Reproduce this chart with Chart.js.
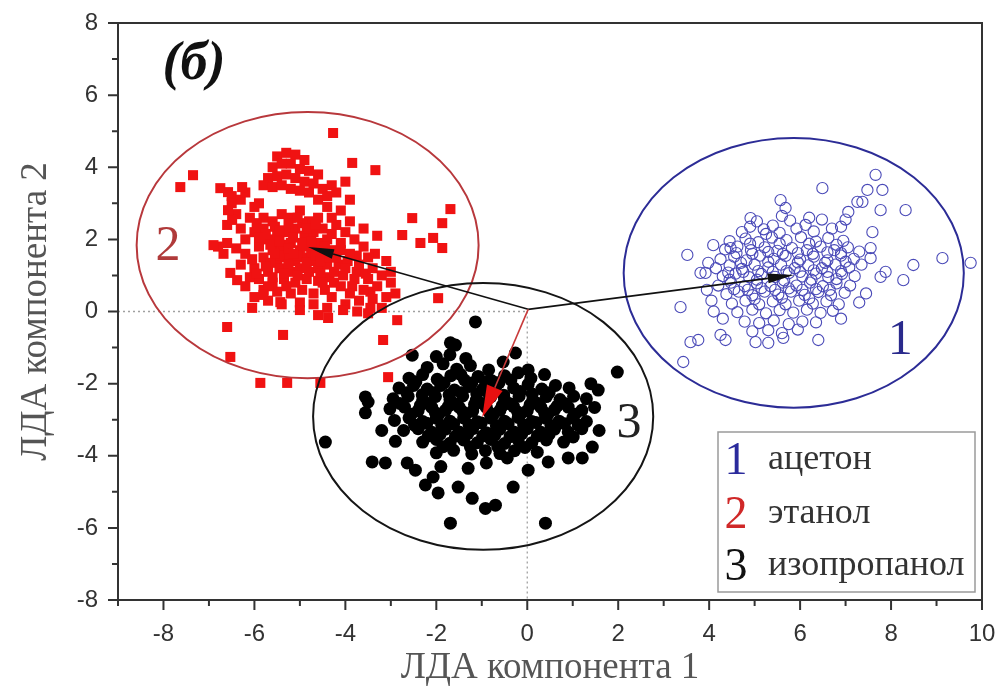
<!DOCTYPE html>
<html><head><meta charset="utf-8">
<script src="https://cdn.jsdelivr.net/npm/chart.js@4"></script>
<style>html,body{margin:0;padding:0;background:#fff}#wrap{width:1008px;height:690px;position:relative}</style>
</head><body><div id="wrap"><canvas id="c"></canvas></div>
<script>
const xTickValues = [-8,-6,-4,-2,0,2,4,6,8,10];
const yTickValues = [-8,-6,-4,-2,0,2,4,6,8];
const xMinorValues = [-9,-7,-5,-3,-1,1,3,5,7,9];
const yMinorValues = [-7,-5,-3,-1,1,3,5,7];
const groupNumbers = ['1','2','3'];
const groupNames = ['ацетон','этанол','изопропанол'];
const xTitle = 'ЛДА компонента 1';
const yTitle = 'ЛДА компонента 2';
const panelLabel = '(б)';

// 1 — ацетон
const acetone = [
[5.05,2.5],[5.4,2.38],[5.78,2.52],[6.12,2.4],[6.48,2.55],[5.6,2.65],
[4.72,2.2],[5.2,2.28],[5.55,2.18],[5.92,2.3],[6.3,2.22],[6.7,2.3],[4.9,2.35],
[4.45,1.95],[4.8,2.02],[5.08,1.92],[5.38,2.05],[5.7,1.98],[6.02,2.06],[6.35,1.94],[6.62,2.04],[6.95,1.96],[5.25,2.15],
[4.35,1.72],[4.62,1.8],[4.92,1.7],[5.22,1.78],[5.5,1.68],[5.82,1.76],[6.15,1.7],[6.45,1.8],[6.75,1.7],[7.05,1.78],[7.3,1.66],
[4.25,1.45],[4.55,1.52],[4.82,1.42],[5.12,1.55],[5.42,1.46],[5.68,1.54],[6.0,1.44],[6.3,1.52],[6.6,1.42],[6.9,1.55],[7.18,1.46],
[4.15,1.2],[4.45,1.28],[4.72,1.18],[5.0,1.3],[5.3,1.22],[5.58,1.3],[5.88,1.2],[6.18,1.28],[6.48,1.2],[6.78,1.3],[7.08,1.22],[7.35,1.3],
[4.3,0.98],[4.58,1.05],[4.88,0.95],[5.15,1.04],[5.45,0.96],[5.75,1.06],[6.05,0.97],[6.35,1.05],[6.62,0.95],[6.92,1.04],[7.2,0.98],
[4.2,0.72],[4.48,0.8],[4.78,0.7],[5.05,0.78],[5.35,0.7],[5.62,0.8],[5.92,0.72],[6.22,0.8],[6.5,0.7],[6.8,0.78],[7.1,0.72],
[4.38,0.48],[4.65,0.55],[4.95,0.45],[5.22,0.55],[5.52,0.47],[5.8,0.55],[6.1,0.46],[6.4,0.54],[6.68,0.45],[6.98,0.52],
[4.5,0.22],[4.8,0.3],[5.1,0.2],[5.4,0.28],[5.68,0.2],[5.98,0.3],[6.28,0.22],[6.58,0.28],[6.85,0.2],
[4.62,-0.02],[4.95,0.05],[5.25,-0.05],[5.55,0.04],[5.85,-0.03],[6.15,0.05],[6.45,-0.04],[6.72,0.02],
[4.78,-0.28],[5.1,-0.32],[5.42,-0.25],[5.75,-0.35],[6.05,-0.28],[6.35,-0.3],
[4.95,-0.55],[5.3,-0.52],[5.6,-0.6],[5.95,-0.5],
[4.6,1.62],[4.95,1.6],[5.3,1.65],[5.62,1.6],[5.95,1.62],[6.28,1.6],[6.6,1.64],[6.9,1.62],
[4.42,1.08],[4.75,1.1],[5.08,1.12],[5.4,1.1],[5.7,1.12],[6.0,1.1],[6.3,1.14],[6.6,1.1],[6.9,1.12],
[4.55,0.62],[4.85,0.6],[5.15,0.65],[5.45,0.6],[5.75,0.64],[6.05,0.6],[6.35,0.62],[6.65,0.6],
[4.9,1.88],[5.55,1.88],[6.2,1.88],[6.8,1.85],[5.0,0.35],[5.6,0.38],[6.2,0.36],[4.7,1.35],[5.3,1.38],
[5.95,1.36],[6.55,1.35],[7.0,1.38],[4.45,0.88],[5.05,0.88],[5.65,0.86],[6.25,0.88],[6.8,0.9],
[7.66,3.79],[6.49,3.42],[7.48,3.37],[7.81,3.37],[7.26,3.04],[7.37,3.04],[7.06,2.76],[7.77,2.81],[8.32,2.81],
[5.57,3.09],[5.68,2.87],[4.91,2.59],[7.59,2.2],[7.55,1.76],[7.55,1.48],[9.13,1.48],[9.75,1.35],[8.49,1.29],
[8.27,0.87],[7.77,0.96],[7.88,1.1],[3.52,1.57],[3.37,0.12],[4.09,1.84],[4.47,1.76],[3.81,1.07],[3.92,1.07],
[3.98,1.35],[3.59,-0.85],[3.76,-0.79],[3.43,-1.4],[4.25,-0.65],[4.36,-0.79],[5.02,-0.85],[5.3,-0.87],
[5.63,-0.73],[6.4,-0.79],[6.9,2.35],[7.0,2.55],[6.2,2.6],[3.95,0.6],[4.05,0.3],[7.45,0.5],[7.3,0.25],
[6.9,-0.2],[4.3,-0.2],[4.1,0.0]
];

// 2 — этанол
const ethanol = [
[-5.5,4.3],[-5.3,4.4],[-5.1,4.35],[-4.9,4.2],[-5.6,4.0],[-5.4,4.1],[-5.2,4.1],[-5.0,3.95],[-4.8,3.9],[-4.6,3.8],
[-5.7,3.7],[-5.5,3.75],[-5.3,3.8],[-5.1,3.7],[-4.9,3.6],[-4.7,3.55],[-4.5,3.4],[-4.3,3.5],[-5.8,3.5],[-5.6,3.45],
[-5.4,3.5],[-5.2,3.4],[-5.0,3.35],[-4.8,3.3],[-4.6,3.1],[-4.4,3.2],[-4.2,3.3],[-4.0,3.6],[-4.4,2.9],[-4.1,2.8],
[-4.3,2.6],[-3.9,3.1],
[-6.5,3.2],[-6.3,3.1],[-6.2,3.3],[-6.0,2.9],[-6.4,2.7],[-6.1,2.6],[-5.9,3.0],[-6.6,2.4],[-6.3,2.3],[-6.0,2.2],
[-5.8,2.6],[-6.5,3.0],[-6.2,2.0],[-5.95,2.45],
[-5.8,2.3],[-5.6,2.5],[-5.4,2.7],[-5.2,2.6],[-5.0,2.8],[-4.8,2.5],[-4.6,2.6],[-5.7,2.0],[-5.5,2.1],[-5.3,2.2],
[-5.1,2.3],[-4.9,2.1],[-4.7,2.2],[-4.5,2.3],[-5.9,1.8],[-5.6,1.7],[-5.4,1.85],[-5.2,1.9],[-5.0,1.7],[-4.8,1.8],
[-4.6,1.9],[-4.4,2.0],[-5.8,1.5],[-5.5,1.4],[-5.3,1.5],[-5.1,1.4],[-4.9,1.5],[-4.7,1.4],[-4.5,1.6],[-4.3,1.7],
[-6.0,1.2],[-5.7,1.1],[-5.45,1.2],[-5.2,1.1],[-5.0,1.2],[-4.8,1.1],[-4.6,1.2],[-4.4,1.3],[-5.9,0.9],[-5.6,0.8],
[-5.35,0.9],[-5.1,0.8],[-4.85,0.9],[-4.6,0.85],[-4.35,0.95],[-5.5,0.55],[-5.2,0.5],[-4.95,0.6],[-4.7,0.5],[-4.45,0.6],
[-5.8,0.6],[-5.35,1.65],[-5.15,2.05],[-4.95,2.45],[-5.55,2.35],[-5.45,1.55],[-4.75,1.65],[-5.65,1.35],[-4.55,1.05],
[-5.25,1.3],[-5.05,1.0],[-4.25,1.1],[-6.2,1.6],[-6.4,1.75],[-6.6,1.9],[-6.8,1.8],[-6.3,1.3],[-6.1,0.95],
[-5.75,2.15],[-5.45,2.25],[-5.25,2.45],[-5.05,2.6],[-4.85,2.3],[-4.65,2.4],[-5.65,1.85],[-5.45,1.95],[-5.25,1.75],
[-5.05,1.55],[-4.85,1.35],[-4.65,1.55],[-4.45,1.8],[-5.75,1.25],[-5.55,1.6],[-5.35,1.05],[-5.15,1.6],[-4.95,1.9],
[-4.75,1.95],[-4.55,1.4],[-4.35,1.5],[-4.15,1.3],[-5.9,2.05],[-6.05,1.45],[-5.95,1.05],[-4.3,2.15],[-4.1,1.7],
[-3.95,1.4],[-3.75,1.1],[-3.55,1.05],[-3.85,0.7],[-4.25,0.8],[-4.5,0.8],[-5.3,0.7],[-5.7,0.7],[-5.6,0.95],
[-4.05,1.0],[-3.45,0.55],[-3.75,1.55],[-3.35,1.6],
[-4.2,2.4],[-4.0,2.2],[-3.8,2.0],[-4.1,1.9],[-3.9,1.6],[-3.6,1.8],[-3.5,1.5],[-4.2,1.5],[-3.7,1.3],[-3.4,1.2],
[-4.0,1.2],[-3.8,0.9],[-3.5,0.9],[-3.2,1.0],[-4.1,0.7],[-3.9,0.5],[-3.6,0.6],[-3.3,0.7],[-3.0,0.8],[-4.3,0.4],
[-3.7,0.3],[-3.4,0.35],[-3.1,0.4],[-2.9,0.5],[-4.0,0.2],[-3.2,0.1],[-3.3,2.1],[-3.6,2.3],[-3.9,2.5],[-3.1,1.4],
[-3.0,1.1],[-4.4,0.1],[-4.7,0.2],[-5.0,0.25],[-5.4,0.2],[-5.7,0.3],[-6.0,0.4],[-6.2,0.7],[-3.5,-0.05],[-4.6,-0.1],
[-4.27,4.95],[-3.85,4.12],[-3.34,3.92],[-7.63,3.45],[-7.35,3.78],[-1.69,2.84],[-2.53,2.59],[-1.87,2.45],
[-2.75,2.12],[-2.35,1.9],[-2.07,2.04],[-1.87,1.76],[-1.96,0.37],[-2.86,-0.24],[-3.17,-0.79],[-3.06,-1.82],
[-4.55,-1.98],[-5.87,-1.98],[-5.37,-0.65],[-6.6,-0.43],[-6.53,-1.26],[-5.28,-1.98],[-4.38,-0.18],
[-6.9,1.84],[-6.68,1.6],[-6.53,1.07],[-6.38,0.87],[-6.75,3.42],[-6.58,3.31],[-6.27,3.45],[-6.49,2.54],[-6.58,2.81],
[-6.05,0.1],[-5.0,0.04],[-4.05,0.04],[-3.74,0.0],[-3.45,0.1],[-5.43,0.26],[-5.8,0.46]
];

// 3 — изопропанол
const isopropanol = [
[-2.2,-1.55],[-1.85,-1.45],[-1.55,-1.6],[-1.25,-1.5],[-0.85,-1.62],[-2.0,-1.25],[-1.7,-1.2],[-1.35,-1.3],
[-2.6,-1.85],[-2.3,-1.75],[-1.98,-1.88],[-1.68,-1.78],[-1.38,-1.9],[-1.08,-1.8],[-0.78,-1.92],[-0.5,-1.78],[0.08,-1.85],[0.38,-1.75],[-0.2,-1.7],
[-2.82,-2.12],[-2.5,-2.05],[-2.2,-2.15],[-1.9,-2.05],[-1.6,-2.18],[-1.28,-2.08],[-0.98,-2.15],[-0.68,-2.05],[-0.3,-2.12],[0.02,-2.02],[0.32,-2.15],[0.62,-2.05],[0.92,-2.12],
[-2.95,-2.42],[-2.62,-2.35],[-2.3,-2.45],[-2.02,-2.36],[-1.7,-2.44],[-1.42,-2.34],[-1.12,-2.46],[-0.8,-2.36],[-0.5,-2.44],[-0.18,-2.35],[0.12,-2.45],[0.42,-2.36],[0.72,-2.44],[1.02,-2.35],[1.3,-2.42],
[-3.02,-2.7],[-2.7,-2.65],[-2.4,-2.75],[-2.1,-2.66],[-1.8,-2.74],[-1.5,-2.65],[-1.2,-2.76],[-0.9,-2.66],[-0.6,-2.74],[-0.3,-2.64],[0.0,-2.75],[0.3,-2.66],[0.6,-2.72],[0.9,-2.65],[1.2,-2.74],[1.48,-2.66],
[-2.92,-3.02],[-2.6,-2.95],[-2.3,-3.05],[-2.0,-2.96],[-1.7,-3.04],[-1.4,-2.95],[-1.1,-3.06],[-0.8,-2.96],[-0.5,-3.04],[-0.2,-2.94],[0.1,-3.05],[0.4,-2.96],[0.7,-3.04],[1.0,-2.95],[1.3,-3.05],
[-2.72,-3.3],[-2.4,-3.25],[-2.1,-3.35],[-1.8,-3.26],[-1.5,-3.34],[-1.2,-3.25],[-0.9,-3.36],[-0.6,-3.26],[-0.3,-3.34],[0.0,-3.25],[0.3,-3.35],[0.6,-3.26],[0.9,-3.34],[1.2,-3.25],[1.58,-3.3],
[-2.3,-3.62],[-2.0,-3.55],[-1.7,-3.65],[-1.4,-3.56],[-1.1,-3.64],[-0.8,-3.55],[-0.5,-3.66],[-0.2,-3.56],[0.1,-3.64],[0.42,-3.56],[0.8,-3.62],
[-2.0,-3.92],[-1.62,-3.85],[-1.22,-3.95],[-0.92,-3.86],[-0.6,-3.94],[-0.28,-3.86],[0.22,-3.9],
[-2.45,-1.95],[-1.83,-1.98],[-1.22,-1.98],[-0.62,-1.97],[-2.65,-2.25],[-2.05,-2.25],[-1.45,-2.25],[-0.85,-2.27],[-0.15,-2.22],[0.48,-2.25],
[-2.8,-2.55],[-2.18,-2.55],[-1.58,-2.57],[-0.98,-2.55],[-0.38,-2.56],[0.25,-2.55],[0.85,-2.56],[-2.55,-2.85],[-1.95,-2.86],[-1.35,-2.85],
[-0.75,-2.87],[-0.15,-2.85],[0.45,-2.86],[1.05,-2.85],[-2.48,-3.15],[-1.88,-3.16],[-1.28,-3.15],[-0.68,-3.17],[-0.08,-3.15],[0.52,-3.16],
[1.12,-3.15],[-2.18,-3.45],[-1.58,-3.46],[-0.98,-3.45],[-0.38,-3.47],[0.22,-3.45],[-1.85,-3.75],[-1.25,-3.76],[-0.65,-3.75],[-0.05,-3.77],
[-2.35,-2.6],[-1.73,-2.62],[-1.16,-2.58],[-0.55,-2.61],[0.06,-2.59],[0.66,-2.62],[-2.02,-2.81],[-1.41,-2.79],[-0.82,-2.82],[-0.21,-2.79],
[0.38,-2.81],[-2.21,-3.1],[-1.62,-3.12],[-1.01,-3.09],[-0.42,-3.11],[0.19,-3.08],[0.82,-3.11],[-1.92,-3.41],[-1.31,-3.39],[-0.71,-3.42],
[-0.12,-3.39],[0.48,-3.41],[-1.72,-2.31],[-1.11,-2.29],[-0.52,-2.32],[0.11,-2.29],[-2.31,-2.31],[-1.46,-1.75],[-0.92,-1.95],[-0.36,-1.9],
[1.98,-1.68],[1.56,-2.18],[-4.44,-3.62],[-3.56,-2.37],[-3.5,-2.51],[-3.56,-2.81],[-3.41,-4.17],[-3.12,-4.2],[-2.64,-4.2],[-2.46,-4.4],
[-2.24,-4.81],[-2.07,-4.59],[-1.96,-5.03],[-1.52,-4.87],[-1.21,-5.18],[-0.92,-5.46],[-0.7,-5.37],[-1.69,-5.87],[0.4,-5.87],[-0.31,-4.87],
[-0.44,-4.06],[0.02,-4.4],[0.46,-4.17],[0.9,-4.06],[1.21,-4.06],[1.43,-3.76],[1.01,-3.48],[-1.69,-0.87],[-1.58,-0.93],[-0.26,-1.15],
[-0.53,-1.4],[0.02,-1.62],[-1.14,-0.29],[-2.53,-1.21],[-3.2,-3.3],[-2.9,-3.6],[1.4,-2.0],[-1.9,-4.3],[-1.3,-4.35],[-0.9,-4.2]
];

// group ellipses (centre, semi-axes in data units), arrows and labels
const ellipseCenters = [[5.86,1.07],[-4.83,1.84],[-0.97,-2.91]];
const ellipseRadii = [[3.74,3.74],[3.76,3.69],[3.74,3.70]];
const arrowOrigin = [0.02,0.06];
const arrowTips = [[5.86,1.01],[-4.82,1.79],[-0.99,-2.93]];
const groupLabelPos = [[8.2,-0.75],[-7.9,1.84],[2.24,-3.06]];

const colors = {
  acetone:'#4a4ab8', acetoneRing:'#2c2c96',
  ethanol:'#f01212', ethanolRing:'#b8383c',
  iso:'#000000', isoRing:'#151515',
  axis:'#333333', tick:'#333333', title:'#555555'
};

function drawArrow(ctx,x1,y1,x2,y2,color,headColor,lw,hl,hw){
  const a=Math.atan2(y2-y1,x2-x1);
  const bx=x2-hl*Math.cos(a), by=y2-hl*Math.sin(a);
  ctx.strokeStyle=color; ctx.lineWidth=lw; ctx.setLineDash([]);
  ctx.beginPath(); ctx.moveTo(x1,y1); ctx.lineTo(bx,by); ctx.stroke();
  ctx.fillStyle=headColor; ctx.beginPath();
  ctx.moveTo(x2,y2);
  ctx.lineTo(bx+hw/2*Math.sin(a), by-hw/2*Math.cos(a));
  ctx.lineTo(bx-hw/2*Math.sin(a), by+hw/2*Math.cos(a));
  ctx.closePath(); ctx.fill();
}

const overlay = {
  id:'overlay',
  beforeDatasetsDraw(chart){
    const {ctx, scales:{x,y}, chartArea:a} = chart;
    const x0=x.getPixelForValue(0), y0=y.getPixelForValue(0);
    ctx.save();
    ctx.strokeStyle='#a0a0a0'; ctx.lineWidth=1.3; ctx.setLineDash([2,3]);
    ctx.beginPath(); ctx.moveTo(a.left,y0); ctx.lineTo(x0,y0); ctx.stroke();
    ctx.beginPath(); ctx.moveTo(x0,y0); ctx.lineTo(x0,a.bottom); ctx.stroke();
    ctx.restore();
  },
  afterDatasetsDraw(chart){
    const {ctx, scales:{x,y}} = chart;
    ctx.save();
    const ringColors=[colors.acetoneRing, colors.ethanolRing, colors.isoRing];
    ellipseCenters.forEach((c,i)=>{
      const cx=x.getPixelForValue(c[0]), cy=y.getPixelForValue(c[1]);
      const rx=Math.abs(x.getPixelForValue(c[0]+ellipseRadii[i][0])-cx);
      const ry=Math.abs(y.getPixelForValue(c[1]+ellipseRadii[i][1])-cy);
      ctx.strokeStyle=ringColors[i]; ctx.lineWidth=2;
      ctx.beginPath(); ctx.ellipse(cx,cy,rx,ry,0,0,Math.PI*2); ctx.stroke();
    });
    const ox=x.getPixelForValue(arrowOrigin[0]), oy=y.getPixelForValue(arrowOrigin[1]);
    drawArrow(ctx,ox,oy,x.getPixelForValue(arrowTips[0][0]),y.getPixelForValue(arrowTips[0][1]),'#111','#111',1.6,26,10);
    drawArrow(ctx,ox,oy,x.getPixelForValue(arrowTips[1][0]),y.getPixelForValue(arrowTips[1][1]),'#111','#111',1.6,26,10);
    drawArrow(ctx,ox,oy,x.getPixelForValue(arrowTips[2][0]),y.getPixelForValue(arrowTips[2][1]),'#c83a3a','#e81010',1.6,32,17);
    const labColors=['#2a2a8c','#b03a3a','#222'];
    ctx.font='50px "Liberation Serif"'; ctx.textAlign='center'; ctx.textBaseline='middle';
    groupLabelPos.forEach((p,i)=>{
      ctx.fillStyle=labColors[i];
      ctx.fillText(groupNumbers[i], x.getPixelForValue(p[0]), y.getPixelForValue(p[1])+2);
    });
    ctx.restore();
  },
  afterDraw(chart){
    const {ctx, scales:{x,y}, chartArea:a} = chart;
    ctx.save();
    ctx.strokeStyle=colors.axis; ctx.lineWidth=2; ctx.setLineDash([]);
    ctx.strokeRect(a.left,a.top,a.right-a.left,a.bottom-a.top);
    ctx.beginPath();
    xTickValues.forEach(v=>{const px=x.getPixelForValue(v); ctx.moveTo(px,a.bottom); ctx.lineTo(px,a.bottom+10);});
    xMinorValues.forEach(v=>{const px=x.getPixelForValue(v); ctx.moveTo(px,a.bottom); ctx.lineTo(px,a.bottom+6);});
    yTickValues.forEach(v=>{const py=y.getPixelForValue(v); ctx.moveTo(a.left,py); ctx.lineTo(a.left-10,py);});
    yMinorValues.forEach(v=>{const py=y.getPixelForValue(v); ctx.moveTo(a.left,py); ctx.lineTo(a.left-6,py);});
    ctx.stroke();
    ctx.fillStyle='#111'; ctx.font='italic bold 54px "Liberation Serif"';
    ctx.textAlign='center'; ctx.textBaseline='middle';
    ctx.fillText(panelLabel, a.left+76, a.top+42);
    const bx=a.right-264, by=a.bottom-168, bw=257, bh=160;
    ctx.fillStyle='#fff'; ctx.fillRect(bx,by,bw,bh);
    ctx.strokeStyle='#9a9a9a'; ctx.lineWidth=1.5; ctx.strokeRect(bx,by,bw,bh);
    const numCols=['#2a2a9c','#d02828','#111'];
    const rowsY=[28,82,134];
    for(let i=0;i<3;i++){
      ctx.textAlign='center'; ctx.textBaseline='middle';
      ctx.font='46px "Liberation Serif"'; ctx.fillStyle=numCols[i];
      ctx.fillText(groupNumbers[i], bx+18, by+rowsY[i]+2);
      ctx.textAlign='left'; ctx.font='36px "Liberation Serif"'; ctx.fillStyle='#333';
      ctx.fillText(groupNames[i], bx+50, by+rowsY[i]);
    }
    ctx.restore();
  }
};

const toXY = arr => arr.map(p=>({x:p[0], y:p[1]}));

new Chart(document.getElementById('c'), {
  type:'scatter',
  data:{datasets:[
    {label:groupNames[2], data:toXY(isopropanol), pointStyle:'circle', pointRadius:6.5, backgroundColor:colors.iso, borderColor:colors.iso, borderWidth:0, order:3},
    {label:groupNames[1], data:toXY(ethanol), pointStyle:'rect', pointRadius:7.1, backgroundColor:colors.ethanol, borderColor:colors.ethanol, borderWidth:0, order:2},
    {label:groupNames[0], data:toXY(acetone), pointStyle:'circle', pointRadius:5.6, backgroundColor:'rgba(255,255,255,0)', borderColor:colors.acetone, borderWidth:1.1, order:1}
  ]},
  options:{
    responsive:true, maintainAspectRatio:false, animation:false, events:[],
    layout:{padding:{left:0, top:23, right:26, bottom:0}},
    plugins:{legend:{display:false}, tooltip:{enabled:false}},
    scales:{
      x:{type:'linear', min:-9, max:10,
        afterBuildTicks:s=>{s.ticks=xTickValues.map(v=>({value:v}));},
        afterFit:s=>{s.height=90; s.paddingLeft=0; s.paddingRight=0; s.paddingTop=0; s.paddingBottom=0;},
        grid:{display:false, drawTicks:false}, border:{display:false},
        ticks:{padding:20, color:colors.tick, font:{family:'Liberation Sans', size:24}, maxRotation:0, autoSkip:false},
        title:{display:true, text:xTitle, color:colors.title, font:{family:'Liberation Serif', size:37}, padding:{top:0, bottom:0}}
      },
      y:{type:'linear', min:-8, max:8,
        afterBuildTicks:s=>{s.ticks=yTickValues.map(v=>({value:v}));},
        afterFit:s=>{s.width=118; s.paddingLeft=0; s.paddingRight=0; s.paddingTop=0; s.paddingBottom=0;},
        grid:{display:false, drawTicks:false}, border:{display:false},
        ticks:{padding:20, color:colors.tick, font:{family:'Liberation Sans', size:24}, autoSkip:false},
        title:{display:true, text:yTitle, color:colors.title, font:{family:'Liberation Serif', size:37}, padding:{top:14, bottom:0}}
      }
    }
  },
  plugins:[overlay]
});
</script>
</body></html>
